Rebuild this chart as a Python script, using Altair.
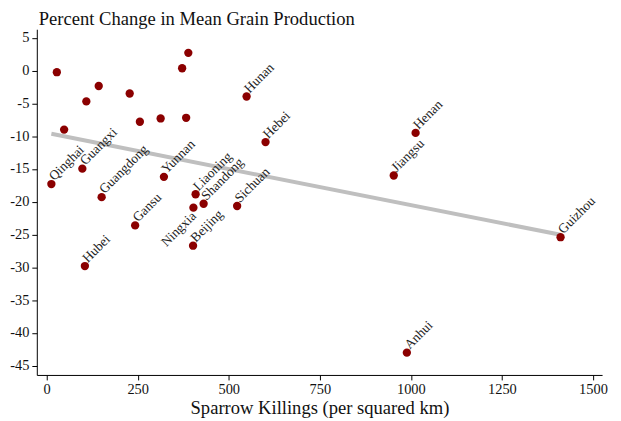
import altair as alt
import pandas as pd

provinces = ["", "", "", "", "", "", "", "", "", "",
             "Hunan", "Hebei", "Qinghai", "Guangxi", "Guangdong", "Yunnan",
             "Liaoning", "Shandong", "Sichuan", "Ningxia", "Gansu", "Beijing",
             "Hubei", "Henan", "Jiangsu", "Guizhou", "Anhui"]
sparrow_killings = [28, 48, 109, 143, 228, 256, 313, 372, 389, 383,
                    549, 601, 13, 98, 151, 322,
                    409, 431, 523, 403, 243, 402,
                    105, 1013, 953, 1411, 989]
grain_change = [-0.25, -9.0, -4.7, -2.35, -3.5, -7.8, -7.3, 0.35, 2.7, -7.2,
                -3.95, -10.9, -17.3, -14.95, -19.3, -16.2,
                -18.85, -20.3, -20.65, -20.9, -23.6, -26.7,
                -29.8, -9.5, -16.0, -25.4, -43.0]
left_label = "Ningxia"

x_ticks = [0, 250, 500, 750, 1000, 1250, 1500]
y_ticks = [-45, -40, -35, -30, -25, -20, -15, -10, -5, 0, 5]

df = pd.DataFrame({"province": provinces, "kill": sparrow_killings, "grain": grain_change})

FONT = "Liberation Serif"

x_enc = alt.X("kill:Q", scale=alt.Scale(domain=[-27, 1525], nice=False, zero=False),
              axis=alt.Axis(values=x_ticks, title="Sparrow Killings (per squared km)", grid=False,
                            labelFontSize=14.5, titleFontSize=18.7, titleFontWeight="normal",
                            labelExpr="'' + datum.value",
                            labelPadding=3, titlePadding=2, tickSize=5,
                            domainColor="black", tickColor="black", labelColor="#111",
                            titleColor="#111", labelFont=FONT, titleFont=FONT))
y_enc = alt.Y("grain:Q", scale=alt.Scale(domain=[-46.4, 6.3], nice=False, zero=False),
              axis=alt.Axis(values=y_ticks, title=None, grid=False,
                            labelFontSize=14.5, tickSize=5, labelPadding=3,
                            labelExpr="'' + datum.value",
                            minExtent=29, maxExtent=29,
                            domainColor="black", tickColor="black", labelColor="#111",
                            labelFont=FONT))

base = alt.Chart(df)

reg = base.transform_regression("kill", "grain").mark_line(
    color="#BFBFBF", strokeWidth=4
).encode(x=x_enc, y=y_enc)

pts = base.mark_circle(color="#8B0000", opacity=1, size=70).encode(x=x_enc, y=y_enc)

lab_right = base.transform_filter(
    f"datum.province != '' && datum.province != '{left_label}'"
).mark_text(
    align="left", baseline="middle", angle=315, dx=4, dy=-4,
    font=FONT, fontSize=13.5, color="#222"
).encode(x=x_enc, y=y_enc, text="province:N")

lab_left = base.transform_filter(
    f"datum.province == '{left_label}'"
).mark_text(
    align="right", baseline="middle", angle=315, dx=-4, dy=5,
    font=FONT, fontSize=13.5, color="#222"
).encode(x=x_enc, y=y_enc, text="province:N")

chart = alt.layer(reg, pts, lab_right, lab_left).properties(
    width=569, height=348,
    title=alt.TitleParams("Percent Change in Mean Grain Production", anchor="start",
                          frame="group", fontSize=18.7, fontWeight="normal", font=FONT,
                          color="#111", offset=-1, dx=2, dy=-2),
    padding={"left": 0, "top": 0, "right": 5, "bottom": 5},
).configure_view(stroke=None)

chart.save("out.html", embed_options={"renderer": "svg", "actions": False})
